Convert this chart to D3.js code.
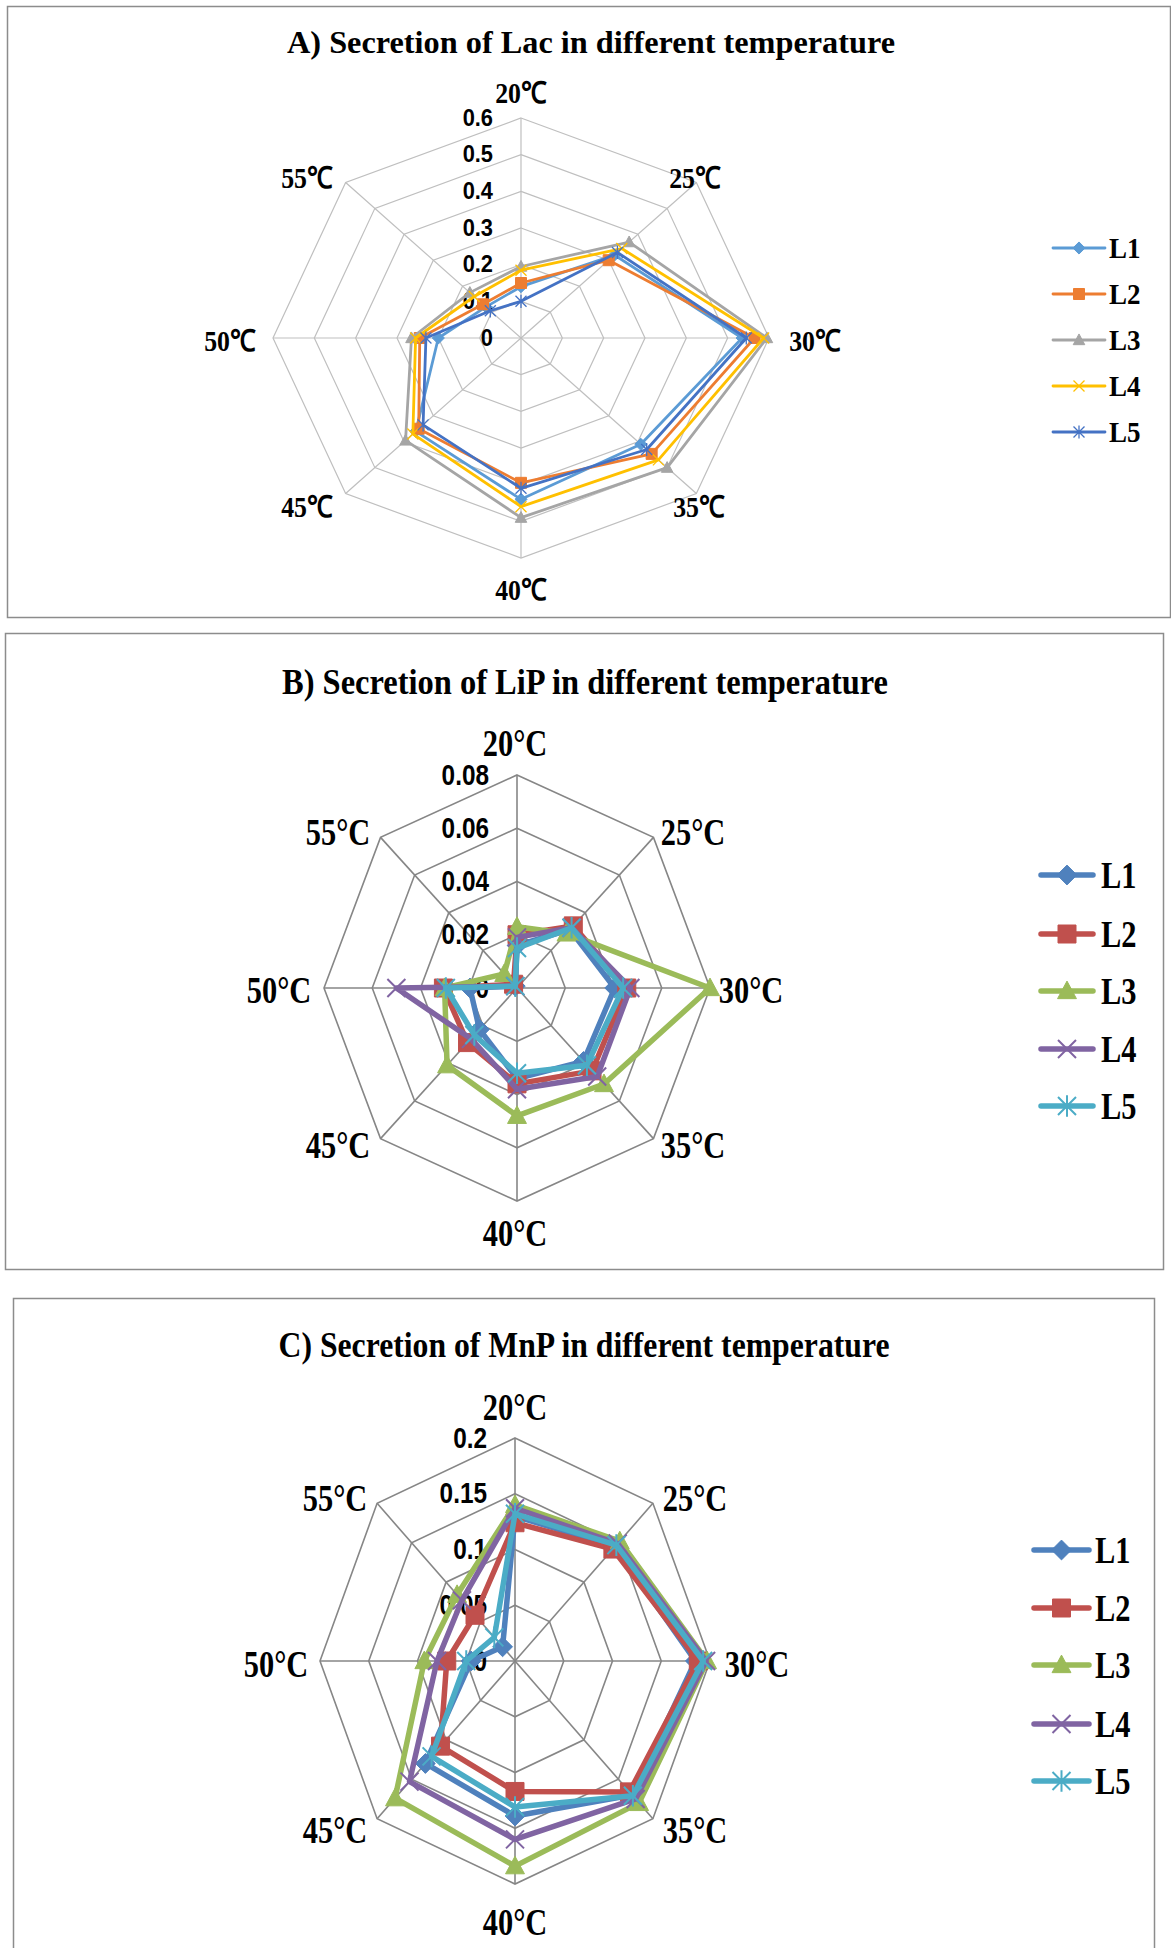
<!DOCTYPE html>
<html><head><meta charset="utf-8">
<script src="https://cdn.jsdelivr.net/npm/d3@7"></script>
<style>body{margin:0;background:#fff} svg{display:block}</style>
</head><body>
<svg id="chart" width="1171" height="1948"></svg>
<script>
// ---------- DATA ----------
const tempsA = ["20℃","25℃","30℃","35℃","40℃","45℃","50℃","55℃"];
const tempsBC = ["20°C","25°C","30°C","35°C","40°C","45°C","50°C","55°C"];
const seriesNames = ["L1","L2","L3","L4","L5"];

// A) Lac
const lacTicks = [0,0.1,0.2,0.3,0.4,0.5,0.6];
const lacL1 = [0.14,0.32,0.535,0.41,0.44,0.36,0.20,0.12];
const lacL2 = [0.15,0.30,0.565,0.447,0.395,0.35,0.245,0.13];
const lacL3 = [0.195,0.37,0.595,0.50,0.49,0.395,0.265,0.175];
const lacL4 = [0.185,0.345,0.587,0.47,0.46,0.37,0.255,0.16];
const lacL5 = [0.10,0.33,0.545,0.43,0.41,0.335,0.23,0.105];

// B) LiP
const lipTicks = [0,0.02,0.04,0.06,0.08];
const lipL1 = [0.016,0.031,0.0405,0.039,0.034,0.022,0.0195,0.001];
const lipL2 = [0.020,0.033,0.0455,0.044,0.036,0.029,0.0305,0.002];
const lipL3 = [0.023,0.029,0.080,0.051,0.048,0.041,0.030,0.0075];
const lipL4 = [0.019,0.032,0.047,0.047,0.038,0.027,0.050,0.001];
const lipL5 = [0.015,0.032,0.044,0.041,0.032,0.025,0.0295,0.001];

// C) MnP
const mnpTicks = [0,0.05,0.1,0.15,0.2];
const mnpTickLabels = ["0","0.05","0.1","0.15","0.2"];
const mnpL1 = [0.130,0.145,0.185,0.170,0.139,0.130,0.045,0.018];
const mnpL2 = [0.124,0.142,0.188,0.166,0.117,0.108,0.070,0.058];
const mnpL3 = [0.140,0.152,0.197,0.180,0.184,0.174,0.093,0.084];
const mnpL4 = [0.137,0.149,0.196,0.175,0.160,0.153,0.080,0.077];
const mnpL5 = [0.132,0.147,0.193,0.171,0.131,0.121,0.050,0.030];

// ---------- STYLE / LAYOUT ----------
const colorsA = ["#5B9BD5","#ED7D31","#A5A5A5","#FFC000","#4472C4"];
const colorsBC = ["#4F81BD","#C0504D","#9BBB59","#8064A2","#4BACC6"];
const markers = ["diamond","square","triangle","x","star"];

const panels = [
  {title:"A) Secretion of Lac in different temperature", cats:tempsA, ticks:lacTicks, tickLabels:lacTicks.map(String),
   series:[lacL1,lacL2,lacL3,lacL4,lacL5], colors:colorsA,
   box:{x:7,y:6,w:1163,h:611}, titleY:53, titleX:591, titleW:608, titleSize:32,
   cx:521, cy:338, rx:248, ry:220, grid:"#bfbfbf", gridW:1.2,
   lineW:2.8, mk:5.5, mkStroke:1.3, catSize:30, catSX:0.86,
   tickSize:23, tickScaleX:0.95,
   legend:{x1:1053,x2:1105,tx:1109,ys:[248,294,340,386,432],size:30,sx:0.9},
   catPos:[[521,93],[695,178],[815,341],[699,507],[521,590],[307,507],[230,341],[307,178]]},
  {title:"B) Secretion of LiP in different temperature", cats:tempsBC, ticks:lipTicks, tickLabels:lipTicks.map(String),
   series:[lipL1,lipL2,lipL3,lipL4,lipL5], colors:colorsBC,
   box:{x:5,y:633,w:1158,h:636}, titleY:694, titleX:585, titleW:606, titleSize:35,
   cx:517, cy:988, rx:193, ry:213, grid:"#868686", gridW:1.6,
   lineW:5.5, mk:9, mkStroke:2, catSize:38, catSX:0.8,
   tickSize:29, tickScaleX:0.84,
   legend:{x1:1041,x2:1093,tx:1101,ys:[875,934,991,1049,1106],size:38,sx:0.8},
   catPos:[[515,743],[693,832],[751,990],[693,1145],[515,1233],[338,1145],[279,990],[338,832]]},
  {title:"C) Secretion of MnP in different temperature", cats:tempsBC, ticks:mnpTicks, tickLabels:mnpTickLabels,
   series:[mnpL1,mnpL2,mnpL3,mnpL4,mnpL5], colors:colorsBC,
   box:{x:13,y:1298,w:1141,h:680}, titleY:1357, titleX:584, titleW:611, titleSize:35,
   cx:515, cy:1661, rx:195, ry:223, grid:"#868686", gridW:1.6,
   lineW:5.5, mk:9, mkStroke:2, catSize:38, catSX:0.8,
   tickSize:29, tickScaleX:0.84,
   legend:{x1:1034,x2:1089,tx:1095,ys:[1550,1608,1665,1724,1781],size:38,sx:0.8},
   catPos:[[515,1407],[695,1498],[757,1664],[695,1830],[515,1922],[335,1830],[276,1664],[335,1498]]}
];

const svg = d3.select("#chart");
const serif = "'Liberation Serif','Times New Roman',serif";
const sans = "'Liberation Sans',Arial,sans-serif";

function markerPath(type, s){
  switch(type){
    case "diamond": return `M0,${-s*1.1}L${s*1.1},0L0,${s*1.1}L${-s*1.1},0Z`;
    case "square": return `M${-s},${-s}H${s}V${s}H${-s}Z`;
    case "triangle": return `M0,${-s*1.1}L${s*1.05},${s*0.85}L${-s*1.05},${s*0.85}Z`;
    case "x": return `M${-s},${-s}L${s},${s}M${s},${-s}L${-s},${s}`;
    case "star": return `M${-s},${-s}L${s},${s}M${s},${-s}L${-s},${s}M0,${-s*1.2}L0,${s*1.2}`;
  }
}
function drawMarker(g, type, x, y, s, color, sw){
  const filled = type==="diamond"||type==="square"||type==="triangle";
  g.append("path").attr("transform",`translate(${x},${y})`)
    .attr("d", markerPath(type,s))
    .attr("fill", filled?color:"none")
    .attr("stroke", color)
    .attr("stroke-width", filled?1:sw);
}

panels.forEach(p=>{
  const g = svg.append("g");
  g.append("rect").attr("x",p.box.x+0.5).attr("y",p.box.y+0.5).attr("width",p.box.w).attr("height",p.box.h)
    .attr("fill","#fff").attr("stroke","#8c8c8c").attr("stroke-width",1.5);
  g.append("text").attr("x",p.titleX).attr("y",p.titleY).attr("text-anchor","middle")
    .attr("font-family",serif).attr("font-weight","bold").attr("font-size",p.titleSize)
    .attr("textLength",p.titleW).attr("lengthAdjust","spacingAndGlyphs").text(p.title);

  const maxV = p.ticks[p.ticks.length-1];
  const r = d3.scaleLinear().domain([0,maxV]).range([0,1]);
  const ang = d3.scaleLinear().domain([0,p.cats.length]).range([0,2*Math.PI]);
  const px = (i,v)=> p.cx + p.rx*r(v)*Math.sin(ang(i));
  const py = (i,v)=> p.cy - p.ry*r(v)*Math.cos(ang(i));
  const idx = d3.range(p.cats.length);

  // grid rings
  const ring = d3.line().x(d=>d[0]).y(d=>d[1]).curve(d3.curveLinearClosed);
  p.ticks.slice(1).forEach(t=>{
    g.append("path").attr("d", ring(idx.map(i=>[px(i,t),py(i,t)])))
      .attr("fill","none").attr("stroke",p.grid).attr("stroke-width",p.gridW);
  });
  idx.forEach(i=>{
    g.append("line").attr("x1",p.cx).attr("y1",p.cy).attr("x2",px(i,maxV)).attr("y2",py(i,maxV))
      .attr("stroke",p.grid).attr("stroke-width",p.gridW);
  });
  // category labels
  p.cats.forEach((c,i)=>{
    g.append("text").attr("transform",`translate(${p.catPos[i][0]},${p.catPos[i][1]}) scale(${p.catSX},1)`)
      .attr("text-anchor","middle").attr("dominant-baseline","central")
      .attr("font-family",serif).attr("font-weight","bold").attr("font-size",p.catSize).text(c);
  });
  // tick labels
  p.ticks.forEach((t,k)=>{
    const ty = py(0,t);
    g.append("text").attr("transform",`translate(${p.cx-28},${ty}) scale(${p.tickScaleX},1)`)
      .attr("text-anchor","end").attr("dominant-baseline","central")
      .attr("font-family",sans).attr("font-weight","bold").attr("font-size",p.tickSize).text(p.tickLabels[k]);
  });
  // series
  const line = d3.line().x(d=>px(d.i,d.v)).y(d=>py(d.i,d.v)).curve(d3.curveLinearClosed);
  p.series.forEach((vals,s)=>{
    const pts = vals.map((v,i)=>({i,v}));
    g.append("path").attr("d",line(pts)).attr("fill","none").attr("stroke",p.colors[s])
      .attr("stroke-width",p.lineW).attr("stroke-linejoin","round");
    pts.forEach(d=>drawMarker(g, markers[s], px(d.i,d.v), py(d.i,d.v), p.mk, p.colors[s], p.mkStroke));
  });
  // legend
  seriesNames.forEach((n,s)=>{
    const y = p.legend.ys[s];
    g.append("line").attr("x1",p.legend.x1).attr("x2",p.legend.x2).attr("y1",y).attr("y2",y)
      .attr("stroke",p.colors[s]).attr("stroke-width",p.lineW).attr("stroke-linecap","round");
    drawMarker(g, markers[s], (p.legend.x1+p.legend.x2)/2, y, p.mk, p.colors[s], p.mkStroke);
    g.append("text").attr("transform",`translate(${p.legend.tx},${y}) scale(${p.legend.sx},1)`)
      .attr("dominant-baseline","central")
      .attr("font-family",serif).attr("font-weight","bold").attr("font-size",p.legend.size).text(n);
  });
});
</script>
</body></html>
